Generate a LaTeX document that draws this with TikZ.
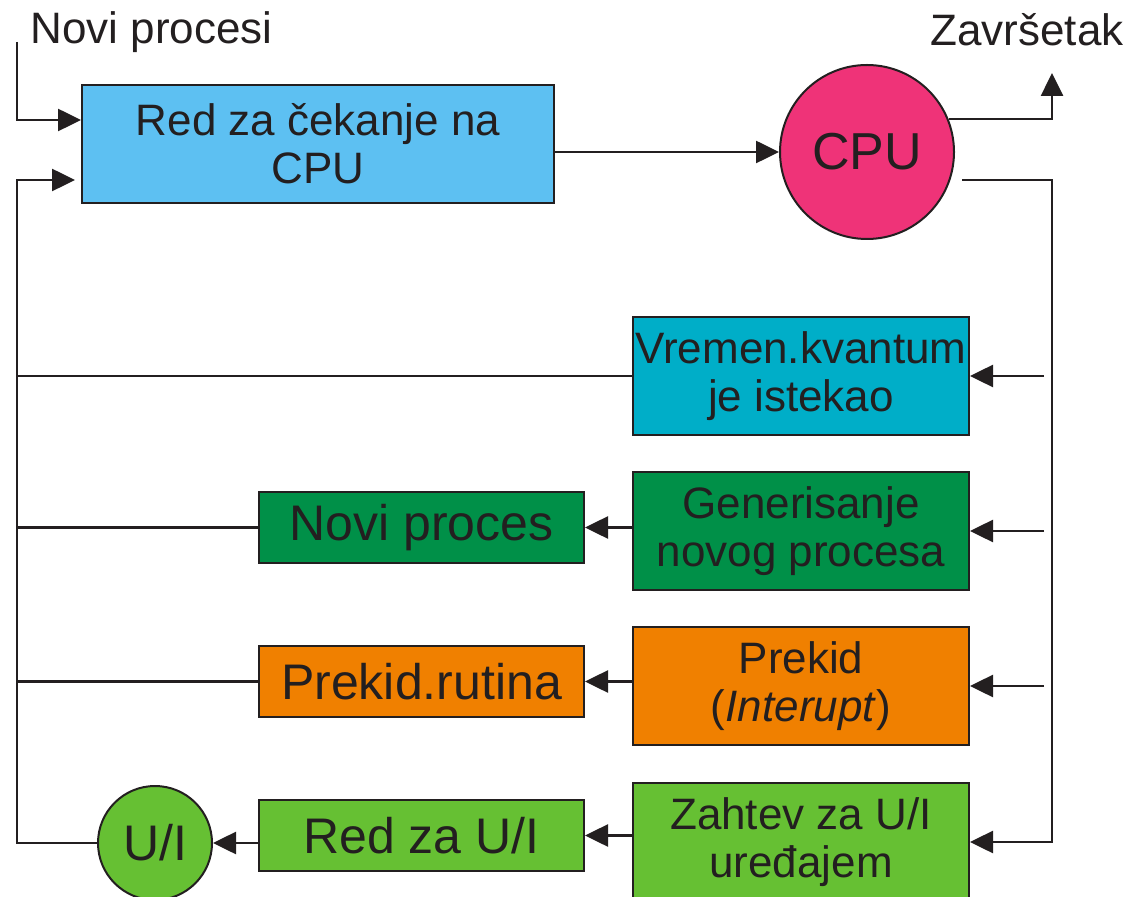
\documentclass[tikz,border=0pt]{standalone}
\usepackage{fontspec}
\setmainfont{Liberation Sans}
\usetikzlibrary{arrows.meta}
\definecolor{ink}{RGB}{35,31,32}
\definecolor{redblue}{RGB}{93,192,242}
\definecolor{cpupink}{RGB}{239,51,120}
\definecolor{kvantcyan}{RGB}{0,174,200}
\definecolor{gendark}{RGB}{0,144,72}
\definecolor{prorange}{RGB}{240,128,0}
\definecolor{uilight}{RGB}{102,192,51}

\begin{document}
\begin{tikzpicture}[x=0.5pt,y=-0.5pt,>={Triangle[length=11.5pt,width=11pt]},
  box/.style={draw=ink, line width=1pt, align=center, inner sep=0pt, text=ink, font=\fontsize{22}{24}\selectfont},
  bigbox/.style={box, minimum width=168pt, minimum height=59pt},
  smallbox/.style={box, minimum width=162.5pt, minimum height=35.5pt, font=\fontsize{25}{28}\selectfont},
  label/.style={text=ink, font=\fontsize{22}{24}\selectfont, inner sep=0pt},
  conn/.style={draw=ink, line width=1.3pt}]
\useasboundingbox (0,0) rectangle (1128,897);

\node[box, fill=redblue, minimum width=236pt, minimum height=59pt] (red) at (318,144) {Red za čekanje na\\CPU};
\node[box, circle, fill=cpupink, minimum size=87pt, font=\fontsize{26}{28}\selectfont] (cpu) at (867,152) {CPU};

\node[bigbox, fill=kvantcyan] (vk) at (801,376) {Vremen.kvantum\\je istekao};
\node[bigbox, fill=gendark] (gen) at (801,531) {Generisanje\\novog procesa};
\node[bigbox, fill=prorange] (pr) at (801,686) {Prekid\\(\textit{Interupt})};
\node[bigbox, fill=uilight] (zah) at (801,842) {Zahtev za U/I\\uređajem};

\node[smallbox, fill=gendark] (np) at (421.5,527.5) {Novi proces};
\node[smallbox, fill=prorange] (rut) at (421.5,681.5) {Prekid.rutina};
\node[smallbox, fill=uilight] (rzu) at (421.5,835.5) {Red za U/I};
\node[box, circle, fill=uilight, minimum size=57pt, font=\fontsize{25}{28}\selectfont] (ui) at (155,843) {U/I};

\node[label, anchor=west] (novi) at (30,32) {Novi procesi};
\node[label] (zavr) at (1027,30) {Završetak};

\coordinate (in) at (17,42);
\coordinate (loop) at (17,180);
\coordinate (back) at (75,180);
\coordinate (ret) at (962,180);
\coordinate (rv) at (1052,180);
\coordinate (kraj) at (1052,73);

\draw[conn,->] (in) |- (red.west |- 0,120);
\draw[conn,->] (red.east |- cpu.west) -- (cpu.west);
\draw[conn,->] (cpu.22) -| (kraj);
\draw[conn,->] (ret) -- (rv) |- (zah.east);
\foreach \n in {vk,gen,pr}
  \draw[conn,->] (\n.east -| 1044,0) -- (\n.east);
\draw[conn,->] (gen.west |- np.east) -- (np.east);
\draw[conn,->] (pr.west |- rut.east) -- (rut.east);
\draw[conn,->] (zah.west |- rzu.east) -- (rzu.east);
\draw[conn,->] (rzu.west |- ui.east) -- (ui.east);
\draw[conn] (vk.west) -- (vk.west -| loop);
\draw[conn] (np.west) -- (np.west -| loop);
\draw[conn] (rut.west) -- (rut.west -| loop);
\draw[conn,->] (ui.west) -| (loop) -- (back);
\end{tikzpicture}
\end{document}
